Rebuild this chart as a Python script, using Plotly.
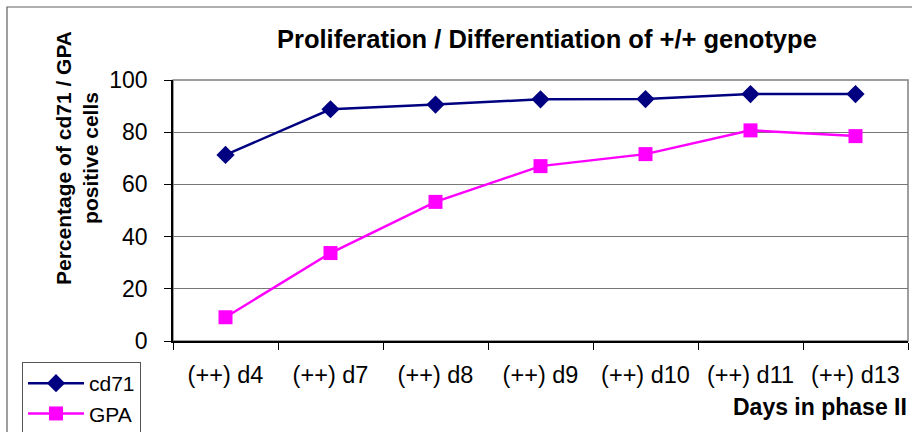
import plotly.graph_objects as go

categories = ["(++) d4", "(++) d7", "(++) d8", "(++) d9", "(++) d10", "(++) d11", "(++) d13"]
cd71 = [71.3, 88.8, 90.6, 92.6, 92.7, 94.6, 94.6]
gpa = [9.1, 33.7, 53.3, 67.0, 71.6, 80.7, 78.5]
y_ticks = [0, 20, 40, 60, 80, 100]

FONT = "Arial, Liberation Sans, sans-serif"
W, H = 912, 432
L, R, T, B = 173, 4, 80, 91
pw, ph = W - L - R, H - T - B

def px(x):
    return (x - L) / pw

def py(y):
    return (H - B - y) / ph

fig = go.Figure()
fig.add_trace(go.Scatter(x=categories, y=cd71, name="cd71", mode="lines+markers",
                         line=dict(color="#000080", width=2.5),
                         marker=dict(symbol="diamond", size=14, color="#000080")))
fig.add_trace(go.Scatter(x=categories, y=gpa, name="GPA", mode="lines+markers",
                         line=dict(color="#FF00FF", width=2.5),
                         marker=dict(symbol="square", size=14, color="#FF00FF")))

fig.update_layout(
    width=W, height=H,
    margin=dict(l=L, r=R, t=T, b=B, autoexpand=False),
    paper_bgcolor="white", plot_bgcolor="white",
    font=dict(family=FONT, color="black"),
    showlegend=True,
    legend=dict(x=px(22), y=py(362), xanchor="left", yanchor="top",
                bordercolor="#555555", borderwidth=1, bgcolor="white",
                font=dict(size=21, family=FONT), tracegroupgap=0, itemwidth=56),
    xaxis=dict(type="category", tickson="boundaries", ticks="outside", ticklen=7,
               tickcolor="black", showline=True, linecolor="black", linewidth=1.5,
               showgrid=False, tickfont=dict(size=23.5, family=FONT),
               ticklabelstandoff=12, range=[-0.5, 6.5]),
    yaxis=dict(range=[0, 100], tickvals=y_ticks, ticks="outside", ticklen=7,
               tickcolor="black", showline=True, linecolor="black", linewidth=1.5,
               showgrid=True, gridcolor="#777777", gridwidth=1,
               tickfont=dict(size=23, family=FONT), ticklabelstandoff=12, zeroline=False),
    shapes=[
        dict(type="rect", xref="paper", yref="paper", x0=0, x1=1, y0=0, y1=1,
             line=dict(color="#808080", width=1.5), layer="below"),
        dict(type="rect", xref="paper", yref="paper", x0=px(7), x1=px(930), y0=py(460), y1=py(7),
             line=dict(color="#606060", width=1.2), layer="below"),
    ],
    annotations=[
        dict(text="<b>Proliferation / Differentiation of +/+ genotype</b>", xref="paper", yref="paper",
             x=px(547), y=py(39), xanchor="center", yanchor="middle", showarrow=False,
             font=dict(size=25.5, family=FONT)),
        dict(text="<b>Percentage of cd71 / GPA<br>positive cells</b>", xref="paper", yref="paper",
             x=px(77), y=py(158), xanchor="center", yanchor="middle", showarrow=False,
             textangle=-90, font=dict(size=21, family=FONT)),
        dict(text="<b>Days in phase II</b>", xref="paper", yref="paper",
             x=px(909), y=py(407), xanchor="right", yanchor="middle", showarrow=False,
             font=dict(size=23, family=FONT)),
    ],
)

fig.write_html("out.html", config={"displayModeBar": False},
               post_script="document.body.style.margin='0';")
